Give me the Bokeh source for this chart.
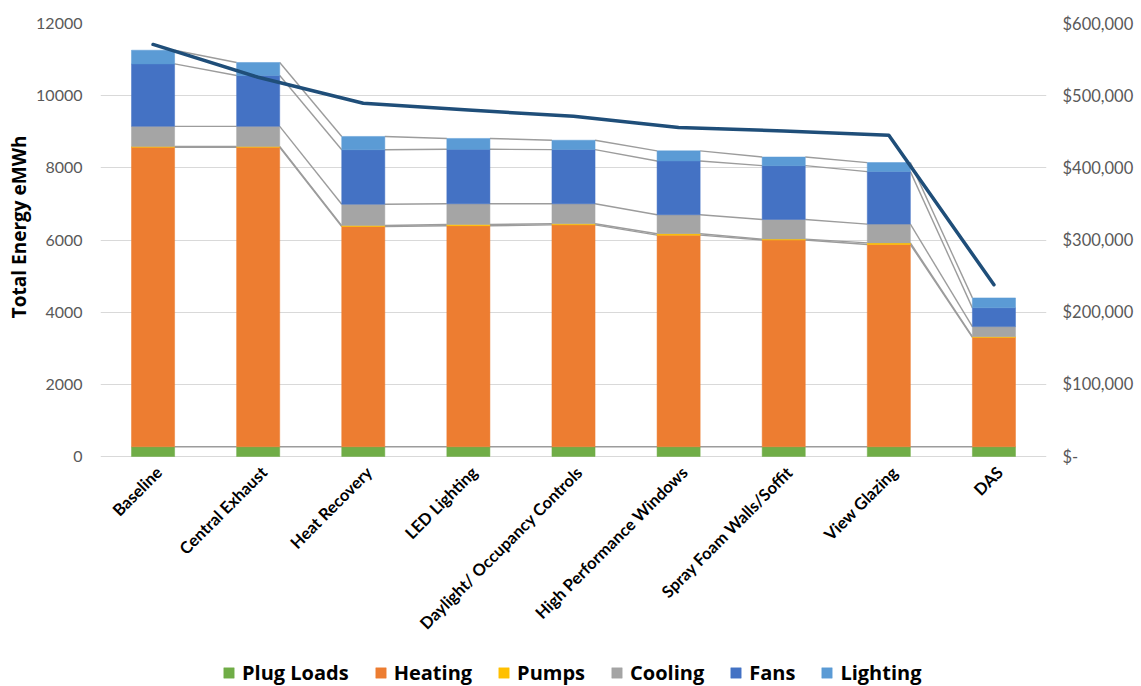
from bokeh.plotting import figure
from bokeh.models import Range1d, LinearAxis, FixedTicker, CustomJSTickFormatter, ColumnDataSource, Title
from bokeh.core.properties import value
from bokeh.embed import file_html
from bokeh.resources import INLINE
import math

categories = ["Baseline", "Central Exhaust", "Heat Recovery", "LED Lighting",
              "Daylight/ Occupancy Controls", "High Performance Windows",
              "Spray Foam Walls/Soffit", "View Glazing", "DAS"]
plug_loads = [270, 270, 270, 270, 270, 270, 270, 270, 270]
heating = [8300, 8300, 6105, 6125, 6150, 5865, 5730, 5605, 3030]
pumps = [20, 20, 25, 35, 30, 40, 25, 45, 20]
cooling = [560, 560, 590, 575, 555, 525, 545, 520, 280]
fans = [1730, 1410, 1510, 1510, 1500, 1490, 1490, 1455, 520]
lighting = [380, 360, 370, 300, 260, 280, 240, 250, 275]
cost = [571000, 525500, 489500, 480000, 471500, 456000, 451000, 445000, 238000]
energy_ticks = [0, 2000, 4000, 6000, 8000, 10000, 12000]
cost_ticks = [0, 100000, 200000, 300000, 400000, 500000, 600000]

series_names = ["Plug Loads", "Heating", "Pumps", "Cooling", "Fans", "Lighting"]
series_values = [plug_loads, heating, pumps, cooling, fans, lighting]
colors = ["#70ad47", "#ed7d31", "#ffc000", "#a5a5a5", "#4472c4", "#5b9bd5"]

n = len(categories)
xc = [i + 0.5 for i in range(n)]
bar_w = 0.41

# layout: frame spans full height below the top margin; value 0 sits 230px above bottom
W, H = 1141, 686
top_margin = 23
plot_px = 433          # pixels for 0..12000
y_max = energy_ticks[-1]
frame_h = H - top_margin
y_min = -(frame_h - plot_px) / plot_px * y_max
cost_ratio = cost_ticks[-1] / y_max

data = {"x": xc, "cost": cost, "label": categories, "zero": [0] * n}
for name, vals in zip(series_names, series_values):
    data[name] = vals
source = ColumnDataSource(data)

p = figure(width=W, height=H, output_backend="svg", toolbar_location=None,
           x_range=Range1d(0, n), y_range=Range1d(y_min, y_max),
           x_axis_location=None,
           min_border_left=100, min_border_right=95, min_border_top=top_margin,
           min_border_bottom=0)
p.outline_line_color = None
p.extra_y_ranges = {"cost": Range1d(y_min * cost_ratio, y_max * cost_ratio)}

# series lines (connectors between stacked tops)
cum = [0] * n
x0s, x1s, y0s, y1s = [], [], [], []
for vals in series_values:
    cum = [c + v for c, v in zip(cum, vals)]
    for i in range(n - 1):
        x0s.append(xc[i] + bar_w / 2)
        x1s.append(xc[i + 1] - bar_w / 2)
        y0s.append(cum[i])
        y1s.append(cum[i + 1])
p.segment(x0s, y0s, x1s, y1s, line_color="#9c9c9c", line_width=1.4)

renderers = p.vbar_stack(series_names, x="x", width=bar_w, color=colors,
                         line_color=colors, line_width=0.5, source=source,
                         legend_label=series_names)

p.line("x", "cost", source=source, y_range_name="cost", line_color="#1f4e79",
       line_width=3.5, line_join="round", line_cap="round")

# category labels (rotated, right end at the category)
p.text(x="x", y="zero", text="label", source=source, angle=math.pi / 4,
       text_align="right", text_baseline="middle", x_offset=6, y_offset=13,
       text_font=value("Lato"), text_font_style="bold", text_font_size="16.5px",
       text_color="#000000")

# left axis
yticker = FixedTicker(ticks=energy_ticks)
yax = p.yaxis[0]
yax.ticker = yticker
yax.major_label_text_font = "Lato"
yax.major_label_text_font_size = "16px"
yax.major_label_text_color = "#595959"
yax.major_label_standoff = 18
yax.major_tick_out = 0
yax.axis_line_color = None
yax.major_tick_line_color = None
yax.minor_tick_line_color = None
p.ygrid.ticker = yticker
p.ygrid.grid_line_color = "#d9d9d9"
p.ygrid.grid_line_width = 1.2
p.xgrid.grid_line_color = None

p.add_layout(Title(text="Total Energy eMWh", align="right", offset=112,
                   text_font="Open Sans", text_font_style="bold",
                   text_font_size="19px", text_color="#000000", standoff=4),
             "left")

# right axis
rax = LinearAxis(y_range_name="cost", ticker=FixedTicker(ticks=cost_ticks),
                 formatter=CustomJSTickFormatter(code="return tick == 0 ? '$-' : '$' + tick.toLocaleString('en-US');"))
rax.major_label_text_font = "Lato"
rax.major_label_text_font_size = "16.5px"
rax.major_label_text_color = "#595959"
rax.major_label_standoff = 16
rax.major_tick_out = 0
rax.axis_line_color = None
rax.major_tick_line_color = None
rax.minor_tick_line_color = None
p.add_layout(rax, "right")

leg = p.legend[0]
leg.orientation = "horizontal"
leg.location = (122, 0)
leg.padding = 0
leg.margin = 0
leg.spacing = 25
leg.label_standoff = 7
leg.glyph_width = 13
leg.glyph_height = 13
leg.border_line_color = None
leg.background_fill_alpha = 0
leg.label_text_font = "Open Sans"
leg.label_text_font_style = "bold"
leg.label_text_font_size = "20px"
leg.label_text_color = "#000000"

open("out.html", "w").write(file_html(p, INLINE))
